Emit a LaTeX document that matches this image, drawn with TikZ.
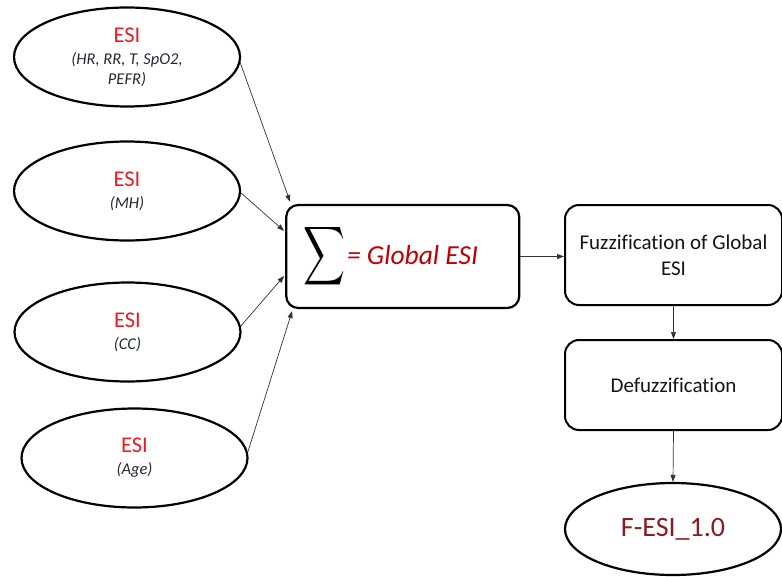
\documentclass[tikz,border=0pt]{standalone}
\usepackage{fontspec}
\usepackage{graphicx}
\setmainfont{Carlito}[Ligatures=NoCommon]
\usetikzlibrary{shapes.geometric,arrows.meta,calc}
\definecolor{esired}{RGB}{237,28,36}
\definecolor{subgray}{RGB}{35,40,52}
\definecolor{globred}{RGB}{192,0,0}
\definecolor{fesired}{RGB}{140,26,32}
\definecolor{boxtext}{RGB}{20,20,20}
\definecolor{arrgray}{RGB}{50,50,50}
\begin{document}
\begin{tikzpicture}[x=1pt,y=-1pt,
  esinode/.style={ellipse,draw,line width=2.2pt,minimum width=226pt,minimum height=99pt,
    inner sep=0pt,align=center,font=\fontsize{16.5}{20}\selectfont\itshape,text=subgray},
  procbox/.style={draw,line width=2pt,rounded corners=14pt,minimum width=217pt,
    inner sep=0pt,align=center,font=\fontsize{21}{26}\selectfont,text=boxtext},
  arr/.style={-{Triangle[length=7pt,width=5pt]},line width=0.7pt,draw=arrgray}]
\useasboundingbox (0,0) rectangle (782,576);

\newcommand{\esititle}{{\upshape\fontsize{22.5}{22.5}\selectfont\color{esired}ESI}\\[2pt]}

\node[esinode] (e1) at (127,57) {\esititle(HR, RR, T, SpO2,\\PEFR)};
\node[esinode] (e2) at (127,191) {\esititle(MH)};
\node[esinode] (e3) at (127.5,332) {\esititle(CC)};
\node[esinode] (e4) at (134.5,458) {\esititle(Age)};

\node[draw,line width=2.2pt,rounded corners=12pt,minimum width=233pt,minimum height=103pt,inner sep=0pt]
  (sum) at (402.75,256.5)
  {\raisebox{-2pt}{\scalebox{2.9}[4.1]{$\displaystyle\sum$}}\,{\color{globred}\itshape\fontsize{27.5}{27.5}\selectfont= Global ESI}\hspace*{24pt}};

\node[procbox,minimum height=100pt] (fuzz) at (673.5,255) {Fuzzification of Global\\ESI};
\node[procbox,minimum height=90pt] (defuzz) at (673.5,385) {Defuzzification};
\node[ellipse,draw,line width=2.2pt,minimum width=216pt,minimum height=92pt,inner sep=0pt,
  font=\fontsize{28}{28}\selectfont,text=fesired] (fesi) at (673,529) {F-ESI\_1.0};

\draw[arr] (e1.-3) -- ($(sum.north west)+(5,-2)$);
\draw[arr] (e2.-1) -- ($(sum.north west)+(-1,27)$);
\draw[arr] (e3.3) -- ($(sum.north west)+(-1,72)$);
\draw[arr] (e4.3) -- ($(sum.south west)+(7,2)$);
\draw[arr] (sum.east) -- (sum.east -| fuzz.west);
\draw[arr] (fuzz.south) -- (defuzz.north);
\draw[arr] (defuzz.south) -- (fesi.north);
\end{tikzpicture}
\end{document}
